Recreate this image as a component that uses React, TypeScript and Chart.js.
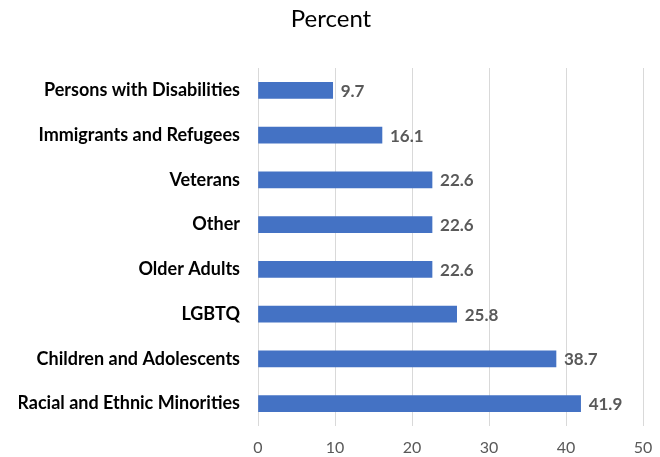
import React, { useEffect, useRef } from "react";
import { Chart, registerables } from "chart.js";

Chart.register(...registerables);

const categories = [
  "Persons with Disabilities",
  "Immigrants and Refugees",
  "Veterans",
  "Other",
  "Older Adults",
  "LGBTQ",
  "Children and Adolescents",
  "Racial and Ethnic Minorities",
];
const values = [9.7, 16.1, 22.6, 22.6, 22.6, 25.8, 38.7, 41.9];
const titleText = "Percent";
const xMin = 0;
const xMax = 50;
const xStep = 10;

const FONT = "Lato, 'Open Sans', sans-serif";

const valueLabels = {
  id: "valueLabels",
  afterDatasetsDraw(chart: any) {
    const ctx = chart.ctx;
    const meta = chart.getDatasetMeta(0);
    ctx.save();
    ctx.font = `bold 17px ${FONT}`;
    ctx.fillStyle = "#595959";
    ctx.textAlign = "left";
    ctx.textBaseline = "middle";
    meta.data.forEach((bar: any, i: number) => {
      ctx.fillText(values[i].toFixed(1), bar.x + 8, bar.y + 1);
    });
    ctx.restore();
  },
};

export default function App() {
  const ref = useRef<HTMLCanvasElement | null>(null);
  useEffect(() => {
    if (!ref.current) return;
    const chart = new Chart(ref.current, {
      type: "bar",
      data: {
        labels: categories,
        datasets: [
          {
            data: values,
            backgroundColor: "#4472C4",
            borderWidth: 0,
            barThickness: 16,
          },
        ],
      },
      options: {
        indexAxis: "y",
        animation: false,
        responsive: false,
        maintainAspectRatio: false,
        layout: { padding: { left: 19, right: 17, top: 0, bottom: 0 } },
        plugins: {
          legend: { display: false },
          tooltip: { enabled: false },
          title: {
            display: true,
            text: titleText,
            color: "#000000",
            font: { family: FONT, size: 24, weight: "normal" },
            padding: { top: 5, bottom: 34.2 },
          },
        },
        scales: {
          x: {
            min: xMin,
            max: xMax,
            ticks: {
              stepSize: xStep,
              color: "#595959",
              font: { family: FONT, size: 16 },
              padding: 12,
            },
            grid: { color: "#d9d9d9", drawTicks: false },
            border: { display: false },
            afterFit(scale: any) {
              scale.height = 31;
              scale.paddingLeft = 0;
              scale.paddingRight = 0;
            },
          },
          y: {
            ticks: {
              color: "#000000",
              font: { family: FONT, size: 18, weight: "bold" },
              padding: 18,
            },
            grid: { display: false, drawTicks: false },
            border: { display: false },
            afterFit(scale: any) {
              scale.width = 239;
            },
          },
        },
      },
      plugins: [valueLabels],
    });
    return () => chart.destroy();
  }, []);
  return (
    <div style={{ position: "fixed", left: 0, top: 0, width: 660, height: 457, background: "#fff" }}>
      <canvas ref={ref} width={660} height={457} style={{ width: 660, height: 457 }} />
    </div>
  );
}
